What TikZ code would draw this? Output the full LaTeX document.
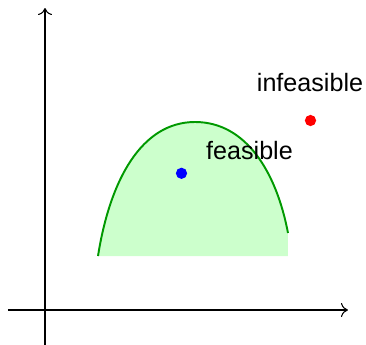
\documentclass[tikz,border=0pt]{standalone}
\usepackage{fontspec}
\setmainfont{Liberation Sans}
\usetikzlibrary{arrows.meta}
\definecolor{regionline}{RGB}{0,153,0}
\definecolor{regionfill}{RGB}{204,255,204}

\begin{document}
\begin{tikzpicture}[x=0.02cm, y=-0.02cm, >={To[length=4pt,width=8pt]},
      axis/.style={line width=0.6pt, ->},
      dot/.style={circle, inner sep=0pt, minimum size=6.4pt},
      lbl/.style={anchor=base, inner sep=0pt, font=\fontsize{14.3}{17}\selectfont}]
    \useasboundingbox (0,0) rectangle (366,345);
    % --- feasible region ---
    \fill[regionfill] (98,256) .. controls (110,180) and (141.5,122) .. (195,122)
          .. controls (246,122) and (276.4,172) .. (288,233)
          -- (288,256) -- cycle;
    \draw[regionline, line width=1.1pt]
          (98,256) .. controls (110,180) and (141.5,122) .. (195,122)
          .. controls (246,122) and (276.4,172) .. (288,233);

    % --- axes ---
    \draw[axis] (8,310) -- (348,310);
    \draw[axis] (45,345) -- (45,8);

    % points
    \node[dot, fill=blue] (pfeas) at (181.5,173.3) {};
    \node[dot, fill=red] (pinfeas) at (310.5,120.5) {};

    % Labels
    \node[lbl] (lfeas) at (249.5,159) {feasible};
    \node[lbl] (linfeas) at (310,91.5) {infeasible};
  \end{tikzpicture}
\end{document}
